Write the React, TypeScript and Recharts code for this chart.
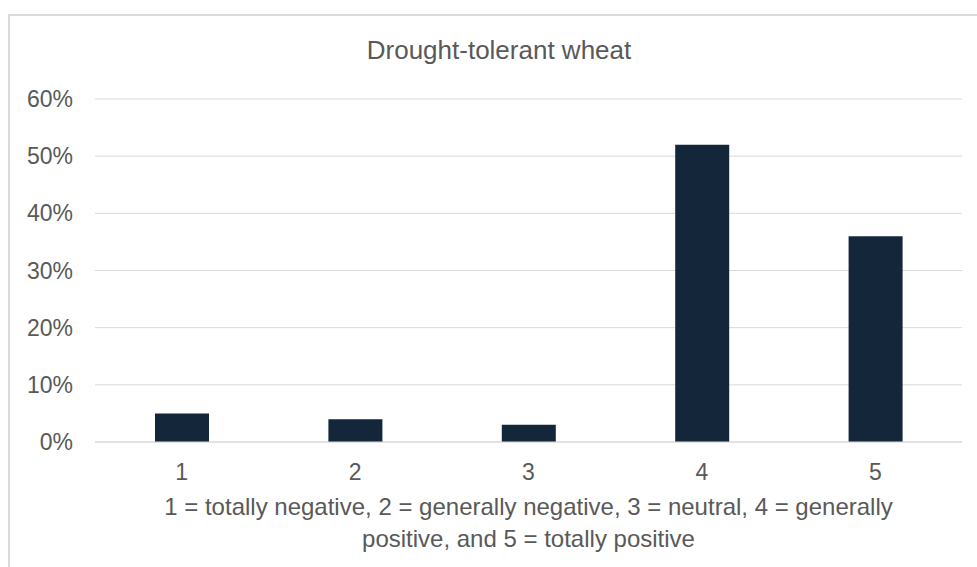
import React from 'react';
import { BarChart, Bar, XAxis, YAxis, CartesianGrid } from 'recharts';

const categories = ['1', '2', '3', '4', '5'];
const shares = [5, 4, 3, 52, 36];
const yTicks = [0, 10, 20, 30, 40, 50, 60];
const title = 'Drought-tolerant wheat';
const axisLines = [
  '1 = totally negative, 2 = generally negative, 3 = neutral, 4 = generally',
  'positive, and 5 = totally positive',
];

const data = categories.map((c, i) => ({ rating: c, share: shares[i] }));

const FONT = '"Liberation Sans", Arial, sans-serif';
const TEXT = '#595959';
const GRID = '#d9d9d9';

const AxisTitle = (props: any) => {
  const { x, y, width } = props.viewBox;
  const cx = x + width / 2;
  return (
    <text x={cx} textAnchor="middle" fill={TEXT} fontSize={24} fontFamily={FONT}>
      <tspan x={cx} y={y + 73}>{axisLines[0]}</tspan>
      <tspan x={cx} y={y + 105}>{axisLines[1]}</tspan>
    </text>
  );
};

export default function App() {
  return (
    <div
      style={{
        position: 'absolute',
        left: 8,
        top: 14,
        width: 969,
        height: 553,
        boxSizing: 'border-box',
        borderTop: `2px solid ${GRID}`,
        borderLeft: `2px solid ${GRID}`,
        overflow: 'hidden',
        background: '#fff',
      }}
    >
      <div
        style={{
          position: 'absolute',
          left: 0,
          top: 21,
          width: 978,
          textAlign: 'center',
          fontFamily: FONT,
          fontSize: 26,
          lineHeight: '26px',
          color: TEXT,
        }}
      >
        {title}
      </div>
      <BarChart
        width={967}
        height={551}
        data={data}
        margin={{ top: 83, right: 15, bottom: 0, left: 0 }}
      >
        <CartesianGrid vertical={false} stroke={GRID} />
        <YAxis
          width={85}
          domain={[0, 60]}
          ticks={yTicks}
          tickFormatter={(v: number) => `${v}%`}
          axisLine={false}
          tickLine={false}
          tickSize={6}
          tickMargin={16}
          tick={{ fill: TEXT, fontSize: 23, fontFamily: FONT }}
        />
        <XAxis
          dataKey="rating"
          height={125}
          axisLine={{ stroke: GRID }}
          tickLine={false}
          tickSize={6}
          tickMargin={16}
          tick={{ fill: TEXT, fontSize: 23, fontFamily: FONT }}
          label={{ content: AxisTitle }}
        />
        <Bar dataKey="share" fill="#13263a" barSize={54} isAnimationActive={false} />
      </BarChart>
    </div>
  );
}
